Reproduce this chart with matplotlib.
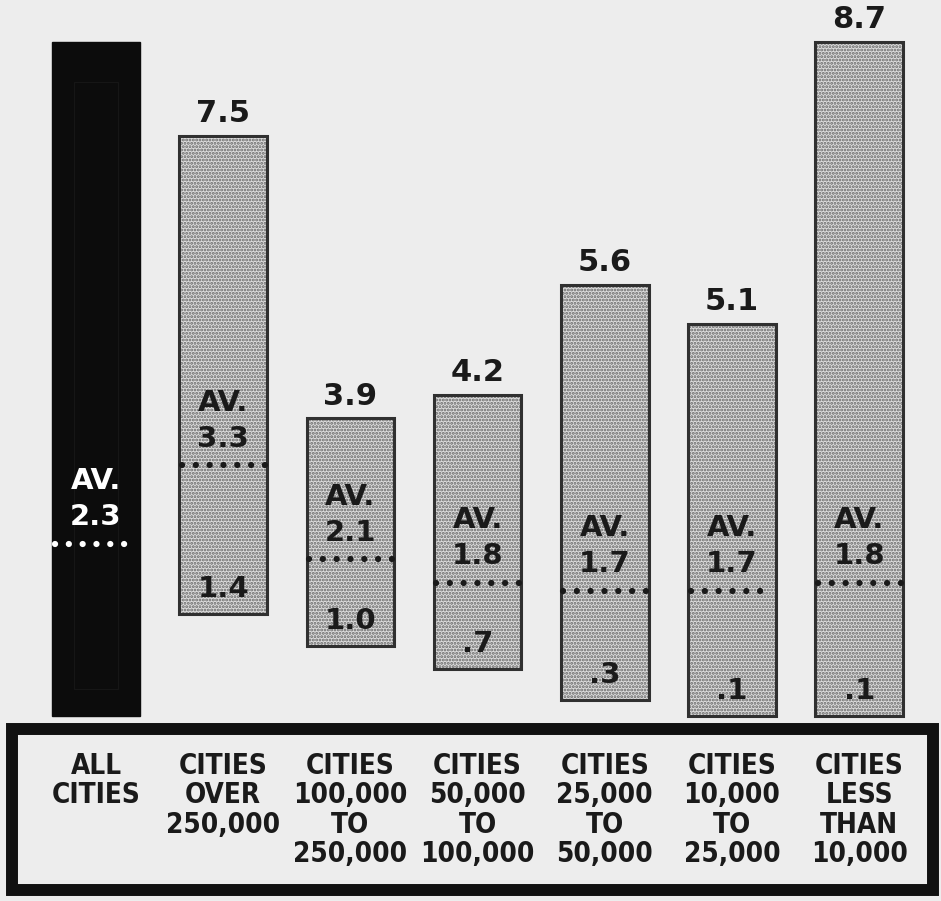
import matplotlib
matplotlib.use('Agg')
import matplotlib.pyplot as plt
from matplotlib.patches import Rectangle

# data
categories = ['ALL\nCITIES', 'CITIES\nOVER\n250,000', 'CITIES\n100,000\nTO\n250,000',
              'CITIES\n50,000\nTO\n100,000', 'CITIES\n25,000\nTO\n50,000',
              'CITIES\n10,000\nTO\n25,000', 'CITIES\nLESS\nTHAN\n10,000']
highs = [8.7, 7.5, 3.9, 4.2, 5.6, 5.1, 8.7]
lows = [0.1, 1.4, 1.0, 0.7, 0.3, 0.1, 0.1]
avgs = [2.3, 3.3, 2.1, 1.8, 1.7, 1.7, 1.8]
show_range = [False, True, True, True, True, True, True]


def fmt(v):
    s = f'{v:.1f}'
    return s[1:] if s.startswith('0') else s


bg = '#ededed'
num_font = ['DejaVu Sans']
cat_font = ['DejaVu Sans']
plt.rcParams['hatch.linewidth'] = 1.4

fig = plt.figure(figsize=(9.41, 9.01), dpi=100, facecolor=bg)
ax = fig.add_axes([0, 0, 1, 1])
ax.set_facecolor(bg)
ax.set_xlim(-0.7547, 6.643)
ax.set_ylim(-2.258, 9.235)
ax.set_axis_off()

w = 0.69
for i, (hi, lo, av) in enumerate(zip(highs, lows, avgs)):
    dark = i == 0
    if dark:
        ax.bar(i, hi - lo, w, bottom=lo, color='#0c0c0c', edgecolor='#0c0c0c', lw=1)
        # faint inner frame seen on the black bar
        ax.bar(i, (hi - lo) * 0.9, w * 0.5, bottom=lo + (hi - lo) * 0.04,
               color='none', edgecolor='#161616', lw=0.8)
        fg = 'white'
    else:
        ax.bar(i, hi - lo, w, bottom=lo, color='#dcdcdc', edgecolor='#666666',
               hatch='.....', lw=0)
        ax.bar(i, hi - lo, w, bottom=lo, color='none', edgecolor='#303030', lw=2.2)
        fg = '#1a1a1a'

    # average line, dotted
    ax.plot([i - w / 2 + 0.02, i + w / 2 - 0.02], [av, av], color=fg, lw=4.5,
            ls=(0, (0.01, 2.2)), dash_capstyle='round', solid_capstyle='round')
    ax.annotate(fmt(av), (i, av), xytext=(0, 19), textcoords='offset points',
                ha='center', va='center', fontsize=21, fontweight='bold',
                family=num_font, color=fg)
    ax.annotate('AV.', (i, av), xytext=(0, 45), textcoords='offset points',
                ha='center', va='center', fontsize=21, fontweight='bold',
                family=num_font, color=fg)

    if show_range[i]:
        ax.annotate(fmt(hi), (i, hi), xytext=(0, 16), textcoords='offset points',
                    ha='center', va='center', fontsize=22, fontweight='bold',
                    family=num_font, color='#1a1a1a')
        ax.annotate(fmt(lo), (i, lo), xytext=(0, 18), textcoords='offset points',
                    ha='center', va='center', fontsize=21, fontweight='bold',
                    family=num_font, color='#1a1a1a')

# label box under the bars
ax.add_patch(Rectangle((12 / 941, 11 / 901), 921 / 941, 161 / 901, transform=ax.transAxes,
                       facecolor=bg, edgecolor='#111111', lw=8.6, zorder=3))
for i, cat in enumerate(categories):
    ax.text(i, (901 - 752) / 901, cat, transform=ax.get_xaxis_transform(),
            ha='center', va='top', fontsize=20, fontweight='bold', family=cat_font,
            fontstretch='condensed', color='#1a1a1a', linespacing=1.06, zorder=4)

fig.savefig('out.png', dpi=100, facecolor=bg)
